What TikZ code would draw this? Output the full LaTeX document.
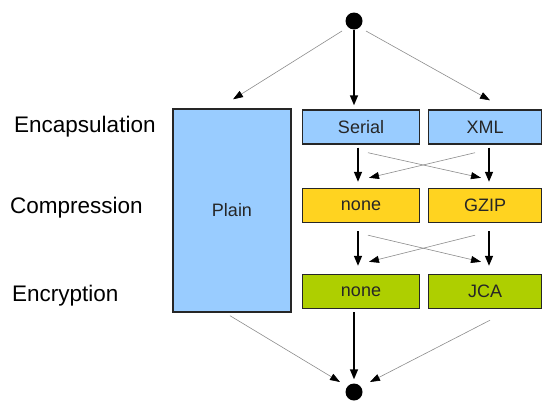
\documentclass[tikz,border=0pt]{standalone}
\usepackage{fontspec}
\setmainfont{Liberation Sans}
\usetikzlibrary{arrows.meta,calc}
\definecolor{encblue}{HTML}{99CCFF}
\definecolor{compyellow}{HTML}{FFD320}
\definecolor{cryptgreen}{HTML}{AECF00}
\begin{document}
\begin{tikzpicture}[x=1pt,y=-1pt,
  box/.style={draw=black!85,line width=1.4pt,inner sep=0pt,font=\fontsize{18}{20}\selectfont,text=black!85},
  rowbox/.style={box,minimum width=117pt,minimum height=34pt},
  dotnode/.style={circle,fill=black,inner sep=0pt,minimum size=17pt},
  strong/.style={line width=1.4pt,-{Triangle[length=10pt,width=8pt]}},
  weak/.style={line width=0.6pt,draw=black!45,-{Triangle[length=10pt,width=7pt,fill=black,color=black]}},
  lbl/.style={font=\fontsize{22.5}{25}\selectfont,anchor=west,inner sep=0pt}]
\useasboundingbox (0,0) rectangle (545,402);
\node[dotnode] (top) at (354,21) {};
\node[dotnode] (bot) at (354,392) {};
\node[box,fill=encblue,minimum width=118pt,minimum height=203pt] (plain) at (232,210.5) {Plain};
\node[rowbox,fill=encblue] (serial) at (361,127) {Serial};
\node[rowbox,fill=encblue,minimum width=113pt] (xml) at (485,127) {XML};
\node[rowbox,fill=compyellow] (cnone) at (361,205.5) {none};
\node[rowbox,fill=compyellow,minimum width=113pt] (gzip) at (485,205.5) {GZIP};
\node[rowbox,fill=cryptgreen] (enone) at (361,291.5) {none};
\node[rowbox,fill=cryptgreen,minimum width=113pt] (jca) at (485,291.5) {JCA};
\node[lbl] (lenc) at (14,127) {Encapsulation};
\node[lbl] (lcomp) at (10,208) {Compression};
\node[lbl] (lcry) at (12,296) {Encryption};
% top fan-out
\draw[strong] (top.south) -- ($(top.south |- serial.north)+(0,-4)$);
\draw[weak] ($(top.center)+(-12,10)$) -- ($(plain.north)+(1,-9)$);
\draw[weak] ($(top.center)+(12,10)$) -- ($(xml.north)+(5,-9)$);
% encapsulation -> compression
\draw[strong] ($(serial.south)+(-3,3)$) -- ($(cnone.north)+(-3,-6)$);
\draw[strong] ($(xml.south)+(4,3)$) -- ($(gzip.north)+(4,-6)$);
\draw[weak] ($(serial.south)+(7,8)$) -- ($(gzip.north)+(-4,-10)$);
\draw[weak] ($(xml.south)+(-10,8)$) -- ($(cnone.north)+(8,-10)$);
% compression -> encryption
\draw[strong] ($(cnone.south)+(-3,8)$) -- ($(enone.north)+(-3,-8)$);
\draw[strong] ($(gzip.south)+(4,8)$) -- ($(jca.north)+(4,-8)$);
\draw[weak] ($(cnone.south)+(7,12)$) -- ($(jca.north)+(-4,-12)$);
\draw[weak] ($(gzip.south)+(-10,12)$) -- ($(enone.north)+(8,-12)$);
% to bottom
\draw[strong] ($(enone.south)+(-7,3)$) -- ($(bot.north)+(0,-4)$);
\draw[weak] ($(plain.south)+(-2,3)$) -- ($(bot.center)+(-14,-10)$);
\draw[weak] ($(jca.south)+(5,11)$) -- ($(bot.center)+(16,-10)$);
\end{tikzpicture}
\end{document}
